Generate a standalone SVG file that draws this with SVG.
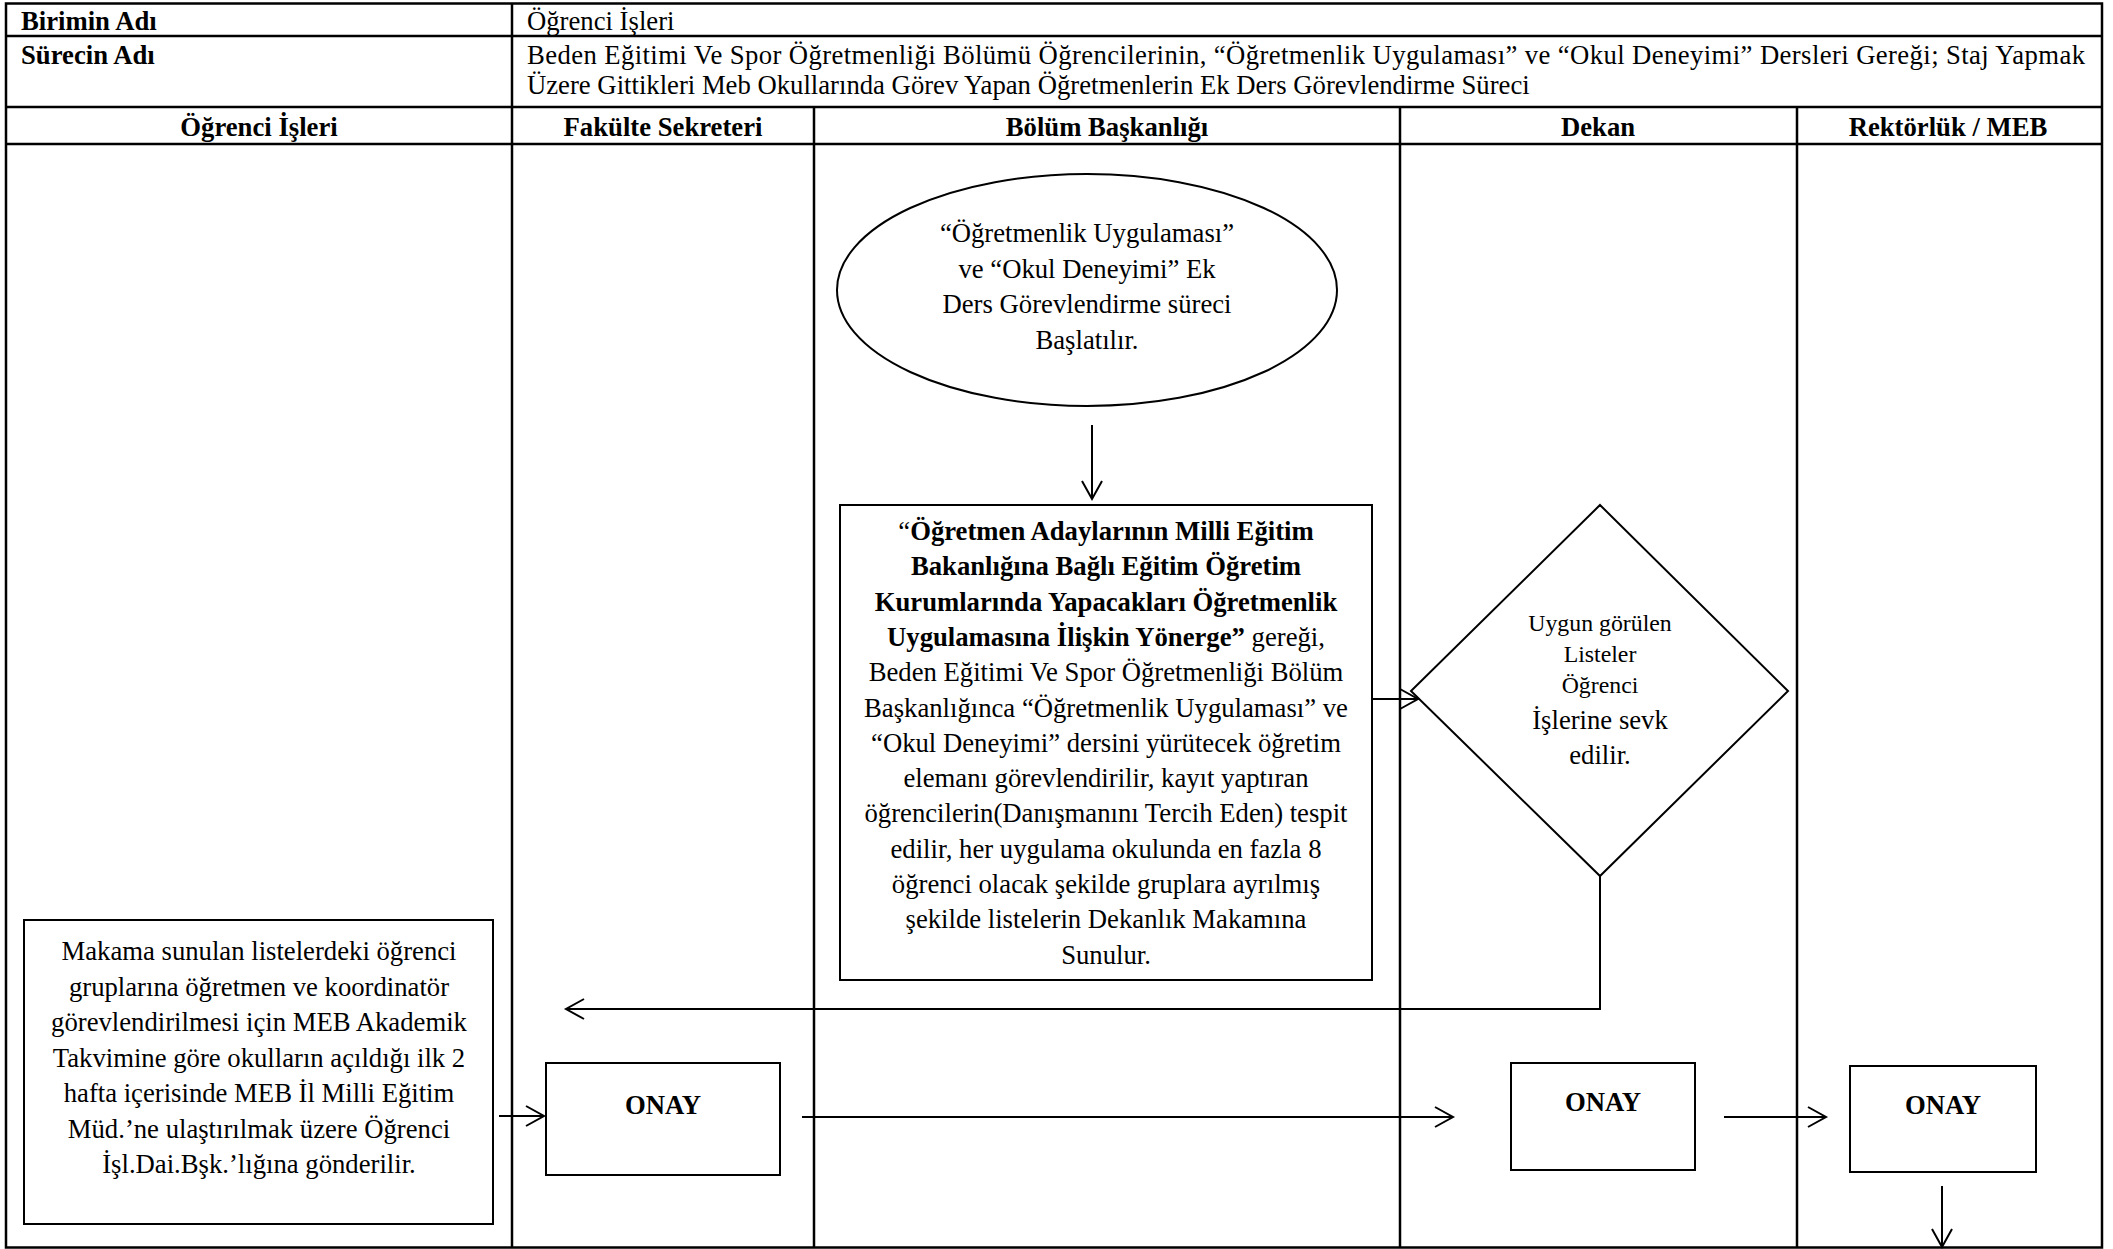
<svg xmlns="http://www.w3.org/2000/svg" width="2113" height="1249" viewBox="0 0 2113 1249">
<style>
text{font-family:"Liberation Serif","Times New Roman",serif;font-size:26.7px;fill:#000}
.b{font-weight:bold}
.c{text-anchor:middle}
.sm{font-size:23.8px}
.tbl{stroke:#000;stroke-width:2.5;fill:none}
.shape{stroke:#000;stroke-width:2;fill:#fff}
.conn{stroke:#000;stroke-width:2;fill:none}
</style>
<defs>
<marker id="ah" markerUnits="userSpaceOnUse" markerWidth="26" markerHeight="26" viewBox="-22 -13 26 26" refX="0" refY="0" orient="auto">
<path d="M-18,-10 L0,0 L-18,10" fill="none" stroke="#000" stroke-width="2"/>
</marker>
</defs>
<rect width="2113" height="1249" fill="#fff"/>
<g id="table">
<rect class="tbl" x="6" y="3.5" width="2096" height="1244"/>
<line class="tbl" x1="6" y1="36" x2="2102" y2="36"/>
<line class="tbl" x1="6" y1="107" x2="2102" y2="107"/>
<line class="tbl" x1="6" y1="144" x2="2102" y2="144"/>
<line class="tbl" x1="512" y1="3.5" x2="512" y2="1247.5"/>
<line class="tbl" x1="814" y1="107" x2="814" y2="1247.5"/>
<line class="tbl" x1="1400" y1="107" x2="1400" y2="1247.5"/>
<line class="tbl" x1="1797" y1="107" x2="1797" y2="1247.5"/>
<text class="b" x="21" y="30">Birimin Adı</text>
<text x="527" y="30">Öğrenci İşleri</text>
<text class="b" x="21" y="64">Sürecin Adı</text>
<text x="527" y="64" textLength="1558" lengthAdjust="spacing">Beden Eğitimi Ve Spor Öğretmenliği Bölümü Öğrencilerinin, “Öğretmenlik Uygulaması” ve “Okul Deneyimi” Dersleri Gereği; Staj Yapmak</text>
<text x="527" y="94">Üzere Gittikleri Meb Okullarında Görev Yapan Öğretmenlerin Ek Ders Görevlendirme Süreci</text>
<text class="b c" x="259" y="136">Öğrenci İşleri</text>
<text class="b c" x="663" y="136">Fakülte Sekreteri</text>
<text class="b c" x="1107" y="136">Bölüm Başkanlığı</text>
<text class="b c" x="1598" y="136">Dekan</text>
<text class="b c" x="1948" y="136">Rektörlük / MEB</text>
</g>
<g id="start">
<ellipse class="shape" cx="1087" cy="290" rx="250" ry="116"/>
<text class="c" x="1087" y="242">“Öğretmenlik Uygulaması”</text>
<text class="c" x="1087" y="278">ve “Okul Deneyimi” Ek</text>
<text class="c" x="1087" y="313">Ders Görevlendirme süreci</text>
<text class="c" x="1087" y="349">Başlatılır.</text>
</g>
<g id="process">
<rect class="shape" x="840" y="505" width="532" height="475"/>
<text class="c" x="1106" y="540">“<tspan class="b">Öğretmen Adaylarının Milli Eğitim</tspan></text>
<text class="c b" x="1106" y="575.3">Bakanlığına Bağlı Eğitim Öğretim</text>
<text class="c b" x="1106" y="610.6">Kurumlarında Yapacakları Öğretmenlik</text>
<text class="c" x="1106" y="645.9"><tspan class="b">Uygulamasına İlişkin Yönerge”</tspan> gereği,</text>
<text class="c" x="1106" y="681.2">Beden Eğitimi Ve Spor Öğretmenliği Bölüm</text>
<text class="c" x="1106" y="716.5">Başkanlığınca “Öğretmenlik Uygulaması” ve</text>
<text class="c" x="1106" y="751.8">“Okul Deneyimi” dersini yürütecek öğretim</text>
<text class="c" x="1106" y="787.1">elemanı görevlendirilir, kayıt yaptıran</text>
<text class="c" x="1106" y="822.4">öğrencilerin(Danışmanını Tercih Eden) tespit</text>
<text class="c" x="1106" y="857.7">edilir, her uygulama okulunda en fazla 8</text>
<text class="c" x="1106" y="893">öğrenci olacak şekilde gruplara ayrılmış</text>
<text class="c" x="1106" y="928.3">şekilde listelerin Dekanlık Makamına</text>
<text class="c" x="1106" y="963.6">Sunulur.</text>
</g>
<g id="decision">
<polygon class="shape" points="1600,505 1788,691 1600,876 1411,691"/>
<text class="c sm" x="1600" y="631">Uygun görülen</text>
<text class="c sm" x="1600" y="662">Listeler</text>
<text class="c sm" x="1600" y="693">Öğrenci</text>
<text class="c" x="1600" y="729">İşlerine sevk</text>
<text class="c" x="1600" y="764">edilir.</text>
</g>
<g id="send">
<rect class="shape" x="24" y="920" width="469" height="304"/>
<text class="c" x="259" y="960">Makama sunulan listelerdeki öğrenci</text>
<text class="c" x="259" y="995.5">gruplarına öğretmen ve koordinatör</text>
<text class="c" x="259" y="1031">görevlendirilmesi için MEB Akademik</text>
<text class="c" x="259" y="1066.5">Takvimine göre okulların açıldığı ilk 2</text>
<text class="c" x="259" y="1102">hafta içerisinde MEB İl Milli Eğitim</text>
<text class="c" x="259" y="1137.5">Müd.’ne ulaştırılmak üzere Öğrenci</text>
<text class="c" x="259" y="1173">İşl.Dai.Bşk.’lığına gönderilir.</text>
</g>
<g id="onay-fakulte">
<rect class="shape" x="546" y="1063" width="234" height="112"/>
<text class="c b" x="663" y="1114">ONAY</text>
</g>
<g id="onay-dekan">
<rect class="shape" x="1511" y="1063" width="184" height="107"/>
<text class="c b" x="1603" y="1111">ONAY</text>
</g>
<g id="onay-rektorluk">
<rect class="shape" x="1850" y="1066" width="186" height="106"/>
<text class="c b" x="1943" y="1114">ONAY</text>
</g>
<g id="connectors">
<line class="conn" x1="1092" y1="425" x2="1092" y2="499" marker-end="url(#ah)"/>
<line class="conn" x1="1373" y1="699" x2="1418" y2="699" marker-end="url(#ah)"/>
<polyline class="conn" points="1600,876 1600,1009 566,1009" marker-end="url(#ah)"/>
<line class="conn" x1="499" y1="1116" x2="544" y2="1116" marker-end="url(#ah)"/>
<line class="conn" x1="802" y1="1117" x2="1453" y2="1117" marker-end="url(#ah)"/>
<line class="conn" x1="1724" y1="1117" x2="1826" y2="1117" marker-end="url(#ah)"/>
<line class="conn" x1="1942" y1="1186" x2="1942" y2="1247" marker-end="url(#ah)"/>
</g>
</svg>
